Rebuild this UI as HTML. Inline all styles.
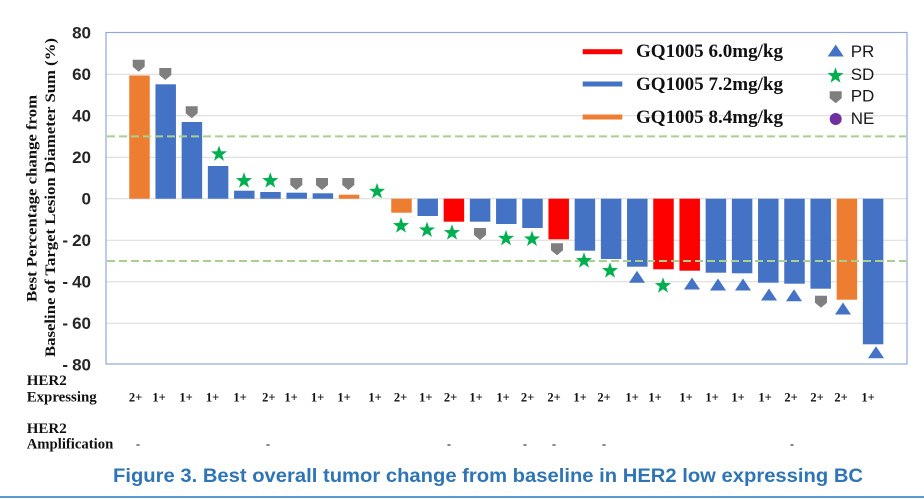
<!DOCTYPE html>
<html>
<head>
<meta charset="utf-8">
<style>
html,body{margin:0;padding:0;background:#ffffff;}
svg{display:block;}
.yt{font-family:"Liberation Sans",Arial,sans-serif;font-size:17px;font-weight:bold;fill:#262626;}
.tm{font-family:"Liberation Serif","Times New Roman",serif;font-weight:bold;fill:#111;}
.lg{font-family:"Liberation Sans",Arial,sans-serif;font-size:17px;fill:#1a1a1a;}
</style>
</head>
<body>
<svg width="924" height="499" viewBox="0 0 924 499" xmlns="http://www.w3.org/2000/svg">
<defs>
  <polygon id="star" points="0,-8.5 2,-2.75 8.08,-2.63 3.23,1.05 5,6.88 0,3.4 -5,6.88 -3.23,1.05 -8.08,-2.63 -2,-2.75" fill="#00B050"/>
  <path id="pd" d="M-6,-6 H6 V1 L0,6 L-6,1 Z" fill="#7F7F7F"/>
  <polygon id="tri" points="0,-6.5 8,5.5 -8,5.5" fill="#4472C4"/>
</defs>

<!-- gridlines -->
<g stroke="#D9D9D9" stroke-width="1">
  <line x1="106" y1="74.2" x2="907" y2="74.2"/>
  <line x1="106" y1="115.7" x2="907" y2="115.7"/>
  <line x1="106" y1="157.2" x2="907" y2="157.2"/>
  <line x1="106" y1="198.7" x2="907" y2="198.7"/>
  <line x1="106" y1="240.2" x2="907" y2="240.2"/>
  <line x1="106" y1="281.7" x2="907" y2="281.7"/>
  <line x1="106" y1="323.2" x2="907" y2="323.2"/>
</g>

<!-- bars -->
<g>
  <rect x="129.25" y="75.5" width="20.5" height="123.2" fill="#ED7D31"/>
  <rect x="155.45" y="84.3" width="20.5" height="114.4" fill="#4472C4"/>
  <rect x="181.65" y="122" width="20.5" height="76.7" fill="#4472C4"/>
  <rect x="207.85" y="166" width="20.5" height="32.7" fill="#4472C4"/>
  <rect x="234.05" y="190.7" width="20.5" height="8" fill="#4472C4"/>
  <rect x="260.25" y="192" width="20.5" height="6.7" fill="#4472C4"/>
  <rect x="286.45" y="192.7" width="20.5" height="6" fill="#4472C4"/>
  <rect x="312.65" y="193.3" width="20.5" height="5.4" fill="#4472C4"/>
  <rect x="338.85" y="194.7" width="20.5" height="4" fill="#ED7D31"/>

  <rect x="391.25" y="198.7" width="20.5" height="14" fill="#ED7D31"/>
  <rect x="417.45" y="198.7" width="20.5" height="17.3" fill="#4472C4"/>
  <rect x="443.65" y="198.7" width="20.5" height="23" fill="#FF0000"/>
  <rect x="469.85" y="198.7" width="20.5" height="23" fill="#4472C4"/>
  <rect x="496.05" y="198.7" width="20.5" height="25.3" fill="#4472C4"/>
  <rect x="522.25" y="198.7" width="20.5" height="29.3" fill="#4472C4"/>
  <rect x="548.45" y="198.7" width="20.5" height="40.6" fill="#FF0000"/>
  <rect x="574.65" y="198.7" width="20.5" height="52" fill="#4472C4"/>
  <rect x="600.85" y="198.7" width="20.5" height="60.3" fill="#4472C4"/>
  <rect x="627.05" y="198.7" width="20.5" height="68" fill="#4472C4"/>
  <rect x="653.25" y="198.7" width="20.5" height="70.6" fill="#FF0000"/>
  <rect x="679.45" y="198.7" width="20.5" height="72" fill="#FF0000"/>
  <rect x="705.65" y="198.7" width="20.5" height="74" fill="#4472C4"/>
  <rect x="731.85" y="198.7" width="20.5" height="74.6" fill="#4472C4"/>
  <rect x="758.05" y="198.7" width="20.5" height="84" fill="#4472C4"/>
  <rect x="784.25" y="198.7" width="20.5" height="85" fill="#4472C4"/>
  <rect x="810.45" y="198.7" width="20.5" height="90" fill="#4472C4"/>
  <rect x="836.65" y="198.7" width="20.5" height="101" fill="#ED7D31"/>
  <rect x="862.85" y="198.7" width="20.5" height="145.6" fill="#4472C4"/>
</g>

<!-- dashed reference lines -->
<g stroke="#A9D08E" stroke-width="2" stroke-dasharray="8,4">
  <line x1="107" y1="136.4" x2="906" y2="136.4"/>
  <line x1="107" y1="261" x2="906" y2="261"/>
</g>

<!-- markers -->
<g>
  <use href="#pd" x="138.7" y="65.7"/>
  <use href="#pd" x="165.3" y="74"/>
  <use href="#pd" x="191.7" y="112.3"/>
  <use href="#star" x="219" y="154"/>
  <use href="#star" x="244" y="180.8"/>
  <use href="#star" x="270.3" y="180.8"/>
  <use href="#pd" x="296.3" y="184"/>
  <use href="#pd" x="322" y="184"/>
  <use href="#pd" x="348.3" y="184"/>
  <use href="#star" x="377" y="191.5"/>
  <use href="#star" x="401" y="225.8"/>
  <use href="#star" x="427" y="230.1"/>
  <use href="#star" x="452" y="232.8"/>
  <use href="#pd" x="480" y="234"/>
  <use href="#star" x="506" y="238.5"/>
  <use href="#star" x="532" y="239.1"/>
  <use href="#pd" x="557" y="249.3"/>
  <use href="#star" x="584" y="260.8"/>
  <use href="#star" x="610" y="270.8"/>
  <use href="#tri" x="637" y="277.3"/>
  <use href="#star" x="663" y="285.8"/>
  <use href="#tri" x="692" y="284"/>
  <use href="#tri" x="718" y="285"/>
  <use href="#tri" x="743" y="285"/>
  <use href="#tri" x="769" y="295"/>
  <use href="#tri" x="794" y="295.7"/>
  <use href="#pd" x="821" y="301.7"/>
  <use href="#tri" x="843" y="309"/>
  <use href="#tri" x="876" y="352.7"/>
</g>

<!-- plot border -->
<rect x="106" y="32.5" width="801" height="331.5" fill="none" stroke="#8EA9DB" stroke-width="1.2"/>

<!-- y tick labels -->
<g class="yt" text-anchor="end">
  <text x="91" y="38.7">80</text>
  <text x="91" y="80.2">60</text>
  <text x="91" y="121.7">40</text>
  <text x="91" y="163.2">20</text>
  <text x="91" y="204.7">0</text>
  <text x="91" y="246.2"><tspan>-</tspan><tspan dx="4">20</tspan></text>
  <text x="91" y="287.7"><tspan>-</tspan><tspan dx="4">40</tspan></text>
  <text x="91" y="329.2"><tspan>-</tspan><tspan dx="4">60</tspan></text>
  <text x="91" y="370.7"><tspan>-</tspan><tspan dx="4">80</tspan></text>
</g>

<!-- y axis title -->
<text class="tm" font-size="15" transform="translate(36.5,302) rotate(-90)" textLength="207" lengthAdjust="spacingAndGlyphs">Best Percentage change from</text>
<text class="tm" font-size="15" transform="translate(55,357) rotate(-90)" textLength="319" lengthAdjust="spacingAndGlyphs">Baseline of Target Lesion Diameter Sum (%)</text>

<!-- legend -->
<rect x="582.7" y="49.2" width="39.6" height="5" fill="#FF0000"/>
<rect x="582.7" y="81.5" width="39.6" height="5" fill="#4472C4"/>
<rect x="582.7" y="114.5" width="39.6" height="5" fill="#ED7D31"/>
<text class="tm" font-size="19" x="636" y="57" textLength="147" lengthAdjust="spacingAndGlyphs">GQ1005 6.0mg/kg</text>
<text class="tm" font-size="19" x="636" y="90" textLength="147" lengthAdjust="spacingAndGlyphs">GQ1005 7.2mg/kg</text>
<text class="tm" font-size="19" x="636" y="123" textLength="147" lengthAdjust="spacingAndGlyphs">GQ1005 8.4mg/kg</text>

<use href="#tri" x="835.7" y="51"/>
<use href="#star" x="835.5" y="75.8"/>
<use href="#pd" x="835.7" y="97.3"/>
<circle cx="835.7" cy="119" r="6" fill="#7030A0"/>
<g class="lg">
  <text x="850.7" y="57">PR</text>
  <text x="850.7" y="80">SD</text>
  <text x="850.7" y="101.7">PD</text>
  <text x="850.7" y="124">NE</text>
</g>

<!-- bottom row labels -->
<text class="tm" font-size="15" x="26.7" y="385">HER2</text>
<text class="tm" font-size="15" x="26.7" y="401.7" textLength="70" lengthAdjust="spacingAndGlyphs">Expressing</text>
<text class="tm" font-size="15" x="26.7" y="433">HER2</text>
<text class="tm" font-size="15" x="26.7" y="448.3" textLength="86.6" lengthAdjust="spacingAndGlyphs">Amplification</text>

<g class="tm" font-size="12.5" text-anchor="middle">
  <text x="135.5" y="401.5">2+</text>
  <text x="159" y="401.5">1+</text>
  <text x="186" y="401.5">1+</text>
  <text x="212.5" y="401.5">1+</text>
  <text x="240" y="401.5">1+</text>
  <text x="268.8" y="401.5">2+</text>
  <text x="291" y="401.5">1+</text>
  <text x="317.5" y="401.5">1+</text>
  <text x="344" y="401.5">1+</text>
  <text x="375" y="401.5">1+</text>
  <text x="400.5" y="401.5">2+</text>
  <text x="425.8" y="401.5">1+</text>
  <text x="450.5" y="401.5">2+</text>
  <text x="476" y="401.5">1+</text>
  <text x="503" y="401.5">1+</text>
  <text x="527.5" y="401.5">2+</text>
  <text x="554" y="401.5">2+</text>
  <text x="580" y="401.5">1+</text>
  <text x="604" y="401.5">2+</text>
  <text x="632" y="401.5">1+</text>
  <text x="655" y="401.5">1+</text>
  <text x="686" y="401.5">1+</text>
  <text x="712" y="401.5">1+</text>
  <text x="738" y="401.5">1+</text>
  <text x="765" y="401.5">1+</text>
  <text x="791" y="401.5">2+</text>
  <text x="817" y="401.5">2+</text>
  <text x="841" y="401.5">2+</text>
  <text x="868" y="401.5">1+</text>
</g>

<g class="tm" font-size="12" text-anchor="middle">
  <text x="138" y="448">-</text>
  <text x="268" y="448">-</text>
  <text x="449" y="448">-</text>
  <text x="525" y="448">-</text>
  <text x="554" y="448">-</text>
  <text x="604" y="448">-</text>
  <text x="792" y="448">-</text>
</g>

<!-- caption -->
<text x="113" y="482" font-family="'Liberation Sans', Arial, sans-serif" font-size="19" font-weight="bold" fill="#2F75B5" textLength="750" lengthAdjust="spacingAndGlyphs">Figure 3. Best overall tumor change from baseline in HER2 low expressing BC</text>

<!-- bottom rule -->
<line x1="0" y1="497" x2="924" y2="497" stroke="#5B9BD5" stroke-width="2"/>
</svg>
</body>
</html>
